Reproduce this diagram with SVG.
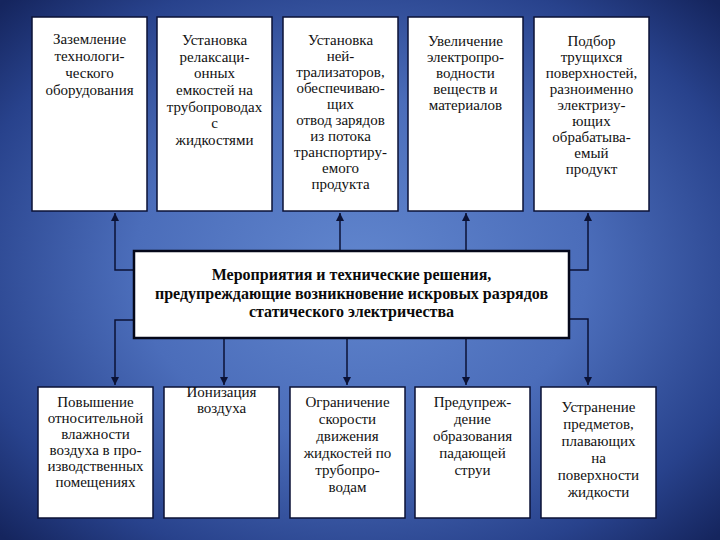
<svg xmlns="http://www.w3.org/2000/svg" width="720" height="540" viewBox="0 0 720 540">
<defs>
<radialGradient id="bg" cx="50%" cy="50%" r="70%">
<stop offset="0" stop-color="#6186ce"/>
<stop offset="0.45" stop-color="#4b6dba"/>
<stop offset="0.8" stop-color="#28428c"/>
<stop offset="1" stop-color="#15255e"/>
</radialGradient>
<marker id="ah" markerWidth="8" markerHeight="8" refX="4" refY="8" markerUnits="userSpaceOnUse" viewBox="0 0 8 8">
<path d="M0,0 L8,0 L4,8 Z" fill="#0b1236"/>
</marker>
<marker id="au" markerWidth="8" markerHeight="8" refX="4" refY="0" markerUnits="userSpaceOnUse" viewBox="0 0 8 8">
<path d="M0,8 L8,8 L4,0 Z" fill="#0b1236"/>
</marker>
</defs>
<style>
.box{fill:#fff;stroke:#0b1236;stroke-width:1.5}
.cbox{fill:#fff;stroke:#05081a;stroke-width:2.5}
text{font-family:'Liberation Serif','DejaVu Serif',serif}
.t{font-size:15px;fill:#111;text-anchor:middle}
.c{font-size:16px;font-weight:bold;fill:#0a0a0a;text-anchor:middle}
.ln{fill:none;stroke:#0b1236;stroke-width:1.5}
</style>
<rect width="720" height="540" fill="url(#bg)"/>

<g id="connectors">
<path class="ln" d="M134,270 H115 V213" marker-end="url(#au)"/>
<path class="ln" d="M340,251 V213" marker-end="url(#au)"/>
<path class="ln" d="M466,251 V213" marker-end="url(#au)"/>
<path class="ln" d="M569,270 H588 V213" marker-end="url(#au)"/>
<path class="ln" d="M134,320 H115 V385" marker-end="url(#ah)"/>
<path class="ln" d="M224,338 V385" marker-end="url(#ah)"/>
<path class="ln" d="M347,338 V385" marker-end="url(#ah)"/>
<path class="ln" d="M466,338 V385" marker-end="url(#ah)"/>
<path class="ln" d="M569,319 H588 V385" marker-end="url(#ah)"/>
</g>

<g id="top1" font-family="Liberation Serif, DejaVu Serif, serif">
<rect class="box" x="32" y="17" width="115" height="194"/>
<text class="t" x="89.5" y="44">Заземление</text>
<text class="t" x="89.5" y="61">технологи-</text>
<text class="t" x="89.5" y="78">ческого</text>
<text class="t" x="89.5" y="95">оборудования</text>
</g>
<g id="top2" font-family="Liberation Serif, DejaVu Serif, serif">
<rect class="box" x="157" y="17" width="115" height="194"/>
<text class="t" x="214.5" y="45">Установка</text>
<text class="t" x="214.5" y="62">релаксаци-</text>
<text class="t" x="214.5" y="78">онных</text>
<text class="t" x="214.5" y="95">емкостей  на</text>
<text class="t" x="214.5" y="112">трубопроводах</text>
<text class="t" x="214.5" y="128">с</text>
<text class="t" x="214.5" y="145">жидкостями</text>
</g>
<g id="top3" font-family="Liberation Serif, DejaVu Serif, serif">
<rect class="box" x="283" y="17" width="115" height="194"/>
<text class="t" x="340.5" y="45">Установка</text>
<text class="t" x="340.5" y="61">ней-</text>
<text class="t" x="340.5" y="77">трализаторов,</text>
<text class="t" x="340.5" y="93">обеспечиваю-</text>
<text class="t" x="340.5" y="109">щих</text>
<text class="t" x="340.5" y="125">отвод  зарядов</text>
<text class="t" x="340.5" y="141">из потока</text>
<text class="t" x="340.5" y="157">транспортиру-</text>
<text class="t" x="340.5" y="173">емого</text>
<text class="t" x="340.5" y="189">продукта</text>
</g>
<g id="top4" font-family="Liberation Serif, DejaVu Serif, serif">
<rect class="box" x="408" y="17" width="115" height="194"/>
<text class="t" x="465.5" y="46">Увеличение</text>
<text class="t" x="465.5" y="62">электропро-</text>
<text class="t" x="465.5" y="78">водности</text>
<text class="t" x="465.5" y="94">веществ и</text>
<text class="t" x="465.5" y="110">материалов</text>
</g>
<g id="top5" font-family="Liberation Serif, DejaVu Serif, serif">
<rect class="box" x="534" y="17" width="115" height="194"/>
<text class="t" x="591.5" y="46">Подбор</text>
<text class="t" x="591.5" y="62">трущихся</text>
<text class="t" x="591.5" y="78">поверхностей,</text>
<text class="t" x="591.5" y="94">разноименно</text>
<text class="t" x="591.5" y="110">электризу-</text>
<text class="t" x="591.5" y="126">ющих</text>
<text class="t" x="591.5" y="142">обрабатыва-</text>
<text class="t" x="591.5" y="158">емый</text>
<text class="t" x="591.5" y="174">продукт</text>
</g>

<g id="center" font-family="Liberation Serif, DejaVu Serif, serif">
<rect class="cbox" x="134" y="251" width="435" height="87"/>
<text class="c" x="351.5" y="280">Мероприятия и технические решения,</text>
<text class="c" x="351.5" y="299">предупреждающие возникновение искровых разрядов</text>
<text class="c" x="351.5" y="317">статического электричества</text>
</g>

<g id="bot1" font-family="Liberation Serif, DejaVu Serif, serif">
<rect class="box" x="38" y="387" width="115" height="131"/>
<text class="t" x="95.5" y="407">Повышение</text>
<text class="t" x="95.5" y="423">относительной</text>
<text class="t" x="95.5" y="439">влажности</text>
<text class="t" x="95.5" y="455">воздуха в про-</text>
<text class="t" x="95.5" y="471">изводственных</text>
<text class="t" x="95.5" y="487">помещениях</text>
</g>
<g id="bot2" font-family="Liberation Serif, DejaVu Serif, serif">
<rect class="box" x="164" y="387" width="115" height="131"/>
<text class="t" x="221.5" y="397">Ионизация</text>
<text class="t" x="221.5" y="413">воздуха</text>
</g>
<g id="bot3" font-family="Liberation Serif, DejaVu Serif, serif">
<rect class="box" x="290" y="387" width="115" height="131"/>
<text class="t" x="347.5" y="407">Ограничение</text>
<text class="t" x="347.5" y="424">скорости</text>
<text class="t" x="347.5" y="441">движения</text>
<text class="t" x="347.5" y="458">жидкостей по</text>
<text class="t" x="347.5" y="475">трубопро-</text>
<text class="t" x="347.5" y="492">водам</text>
</g>
<g id="bot4" font-family="Liberation Serif, DejaVu Serif, serif">
<rect class="box" x="415" y="387" width="115" height="131"/>
<text class="t" x="472.5" y="407">Предупреж-</text>
<text class="t" x="472.5" y="424">дение</text>
<text class="t" x="472.5" y="441">образования</text>
<text class="t" x="472.5" y="458">падающей</text>
<text class="t" x="472.5" y="475">струи</text>
</g>
<g id="bot5" font-family="Liberation Serif, DejaVu Serif, serif">
<rect class="box" x="541" y="387" width="115" height="131"/>
<text class="t" x="598.5" y="412">Устранение</text>
<text class="t" x="598.5" y="429">предметов,</text>
<text class="t" x="598.5" y="446">плавающих</text>
<text class="t" x="598.5" y="463">на</text>
<text class="t" x="598.5" y="480">поверхности</text>
<text class="t" x="598.5" y="497">жидкости</text>
</g>
</svg>
